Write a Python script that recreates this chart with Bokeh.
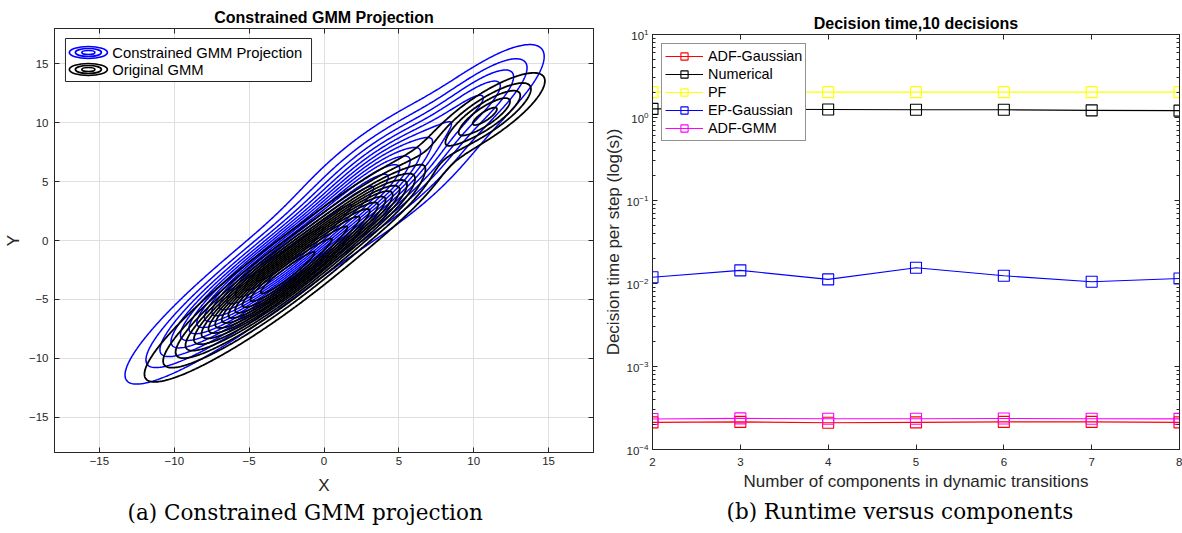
import numpy as np
from bokeh.plotting import figure
from bokeh.layouts import row
from bokeh.models import (Range1d, LinearAxis, LogAxis, SingleIntervalTicker, LogTicker,
                          Legend, LegendItem, Title, CustomJSTickFormatter)
from bokeh.core.properties import value
from bokeh.embed import file_html
from bokeh.resources import INLINE

# ---------------- Panel (a): Gaussian mixture parameters ----------------
proj_mean_x = [-3.3, 4.0, 10.5]
proj_mean_y = [-2.2, 5.5, 12.2]
proj_sd_major = [6.0, 4.5, 3.4]
proj_sd_minor = [1.2, 1.7, 1.2]
proj_angle = [45, 46, 47]
proj_weight = [0.50, 0.30, 0.08]

orig_mean_x = [-3.0, 3.0, 10.8]
orig_mean_y = [-3.3, 2.7, 10.6]
orig_sd_major = [5.3, 3.5, 2.8]
orig_sd_minor = [1.05, 1.0, 0.9]
orig_angle = [44, 44, 42]
orig_weight = [0.55, 0.14, 0.09]

n_levels = 14
legend_a = ["Constrained GMM Projection", "Original GMM"]
title_a = "Constrained GMM Projection"
caption_a = "(a) Constrained GMM projection"

# ---------------- Panel (b): decision time per step ----------------
n_components = [2, 3, 4, 5, 6, 7, 8]
adf_gaussian = [2.12e-4, 2.15e-4, 2.10e-4, 2.12e-4, 2.15e-4, 2.15e-4, 2.12e-4]
numerical = [1.27, 1.26, 1.25, 1.24, 1.24, 1.22, 1.21]
pf = [2.02, 2.02, 2.02, 2.02, 2.02, 2.02, 2.02]
ep_gaussian = [0.0119, 0.0144, 0.0112, 0.0155, 0.0124, 0.0105, 0.0115]
adf_gmm = [2.33e-4, 2.37e-4, 2.35e-4, 2.35e-4, 2.36e-4, 2.35e-4, 2.34e-4]
series_names = ["ADF-Gaussian", "Numerical", "PF", "EP-Gaussian", "ADF-GMM"]
series_colors = ["#FF0000", "#000000", "#FFFF00", "#0000FF", "#FF00FF"]
title_b = "Decision time,10 decisions"
caption_b = "(b) Runtime versus components"

FONT = "Liberation Sans"
AX = "#262626"


def gmm_density(X, Y, mx, my, sma, smi, ang, w):
    Z = np.zeros_like(X)
    for i in range(len(w)):
        t = np.deg2rad(ang[i])
        c, s = np.cos(t), np.sin(t)
        dx, dy = X - mx[i], Y - my[i]
        u = c * dx + s * dy
        v = -s * dx + c * dy
        Z += w[i] * np.exp(-0.5 * ((u / sma[i]) ** 2 + (v / smi[i]) ** 2)) / (2 * np.pi * sma[i] * smi[i])
    return Z


def style_axis(ax):
    ax.axis_line_color = AX
    ax.major_tick_line_color = AX
    ax.minor_tick_line_color = AX
    ax.major_tick_in = 5
    ax.major_tick_out = 0
    ax.minor_tick_in = 3
    ax.minor_tick_out = 0
    ax.major_label_text_font = FONT
    ax.major_label_text_font_size = "11.5px"
    ax.major_label_text_color = AX
    ax.axis_label_text_font = FONT
    ax.axis_label_text_font_size = "17px"
    ax.axis_label_text_font_style = "normal"
    ax.axis_label_text_color = AX


def tick_only_axis(cls, ticker):
    ax = cls(ticker=ticker, formatter=CustomJSTickFormatter(code="return ''"))
    style_axis(ax)
    ax.major_label_text_font_size = "0px"
    ax.major_label_standoff = 0
    return ax


def style_title(p, text, standoff):
    p.title.text = text
    p.title.align = "center"
    p.title.text_font = FONT
    p.title.text_font_size = "16px"
    p.title.text_font_style = "bold"
    p.title.text_color = "#000000"
    p.title.standoff = standoff


def add_caption(p, text, offset, standoff):
    p.add_layout(Title(text=text, align="left", offset=offset, standoff=standoff,
                       text_font="DejaVu Serif", text_font_size="21.5px",
                       text_font_style="normal", text_color="#000000"), "below")


# ================= Panel (a) =================
FA_W, FA_H = 541, 424
pa = figure(width=600, height=533, x_range=Range1d(-18, 18), y_range=Range1d(-18, 18),
            output_backend="svg", toolbar_location=None,
            min_border_left=52, min_border_right=7, min_border_top=28, min_border_bottom=81,
            x_axis_label="X", y_axis_label="Y")
pa.frame_align = False
style_title(pa, title_a, 5)
tick5 = SingleIntervalTicker(interval=5, num_minor_ticks=0)
pa.xaxis.ticker = tick5
pa.yaxis.ticker = tick5
for ax in pa.xaxis + pa.yaxis:
    style_axis(ax)
pa.xaxis.major_label_standoff = 4
pa.xaxis.axis_label_standoff = 8
pa.yaxis.major_label_standoff = 6
pa.yaxis.axis_label_standoff = 3
pa.add_layout(tick_only_axis(LinearAxis, tick5), "above")
pa.add_layout(tick_only_axis(LinearAxis, tick5), "right")
pa.grid.grid_line_color = "#dfdfdf"
pa.outline_line_color = AX

grid = np.linspace(-18, 18, 451)
GX, GY = np.meshgrid(grid, grid)
Zp = gmm_density(GX, GY, proj_mean_x, proj_mean_y, proj_sd_major, proj_sd_minor, proj_angle, proj_weight)
Zo = gmm_density(GX, GY, orig_mean_x, orig_mean_y, orig_sd_major, orig_sd_minor, orig_angle, orig_weight)
lev_p = np.linspace(Zp.max() / (n_levels + 1), Zp.max() * n_levels / (n_levels + 1), n_levels)
lev_o = np.linspace(Zo.max() / (n_levels + 1), Zo.max() * n_levels / (n_levels + 1), n_levels)
pa.contour(grid, grid, Zp, lev_p, line_color="#0000FF", line_width=1.5)
pa.contour(grid, grid, Zo, lev_o, line_color="#000000", line_width=1.8)


# manual legend (concentric-ellipse glyphs) placed by frame-pixel offsets
def fx(px):
    return -18 + px * 36.0 / FA_W


def fy(py):
    return 18 - py * 36.0 / FA_H


pa.quad(left=[fx(11)], right=[fx(258)], top=[fy(10)], bottom=[fy(53)],
        fill_color="white", line_color=AX, line_width=1)
leg_colors = ["#0000FF", "#000000"]
row_py = [24, 41]
for col, py in zip(leg_colors, row_py):
    pa.ellipse(x=[fx(34)] * 3, y=[fy(py)] * 3, width=[38, 26, 13], height=[12, 8, 4],
               width_units="screen", height_units="screen",
               fill_color=None, line_color=col, line_width=1.7)
pa.text(x=[fx(58)] * 2, y=[fy(p) for p in row_py], text=legend_a,
        text_font=value(FONT), text_font_size="14.8px", text_baseline="middle",
        text_align="left", text_color="#000000")
add_caption(pa, caption_a, 73, 0)

# ================= Panel (b) =================
pb = figure(width=582, height=533, x_range=Range1d(2, 8), y_range=Range1d(1e-4, 10),
            y_axis_type="log", output_backend="svg", toolbar_location=None,
            min_border_left=50, min_border_right=3, min_border_top=34, min_border_bottom=84,
            x_axis_label="Number of components in dynamic transitions",
            y_axis_label="Decision time per step (log(s))")
pb.frame_align = False
style_title(pb, title_b, 5)
tick1 = SingleIntervalTicker(interval=1, num_minor_ticks=0)
logt = LogTicker(desired_num_ticks=6, num_minor_ticks=10)
pb.xaxis.ticker = tick1
pb.yaxis.ticker = logt
for ax in pb.xaxis + pb.yaxis:
    style_axis(ax)
pb.xaxis.major_label_standoff = 8
pb.xaxis.axis_label_standoff = 3
pb.yaxis.major_label_standoff = 4
pb.yaxis.axis_label_standoff = 1
pb.add_layout(tick_only_axis(LinearAxis, tick1), "above")
pb.add_layout(tick_only_axis(LogAxis, logt), "right")
pb.grid.visible = False
pb.outline_line_color = AX

all_series = [adf_gaussian, numerical, pf, ep_gaussian, adf_gmm]
items = []
for name, vals, col in zip(series_names, all_series, series_colors):
    lr = pb.line(n_components, vals, line_color=col, line_width=1.1)
    sr = pb.scatter(n_components, vals, marker="square", size=11, fill_color=None,
                    line_color=col, line_width=1.1)
    items.append(LegendItem(label=name, renderers=[lr, sr]))
leg = Legend(items=items, location="top_left", margin=9, padding=3, spacing=0,
             glyph_width=38, glyph_height=18, label_height=18, label_standoff=5,
             border_line_color=AX, border_line_width=1, background_fill_color="white",
             background_fill_alpha=1.0, label_text_font=FONT, label_text_font_size="14.4px",
             label_text_color="#000000")
pb.add_layout(leg)
add_caption(pb, caption_b, 74, 6)

layout = row(pa, pb)
open("out.html", "w").write(file_html(layout, INLINE))
